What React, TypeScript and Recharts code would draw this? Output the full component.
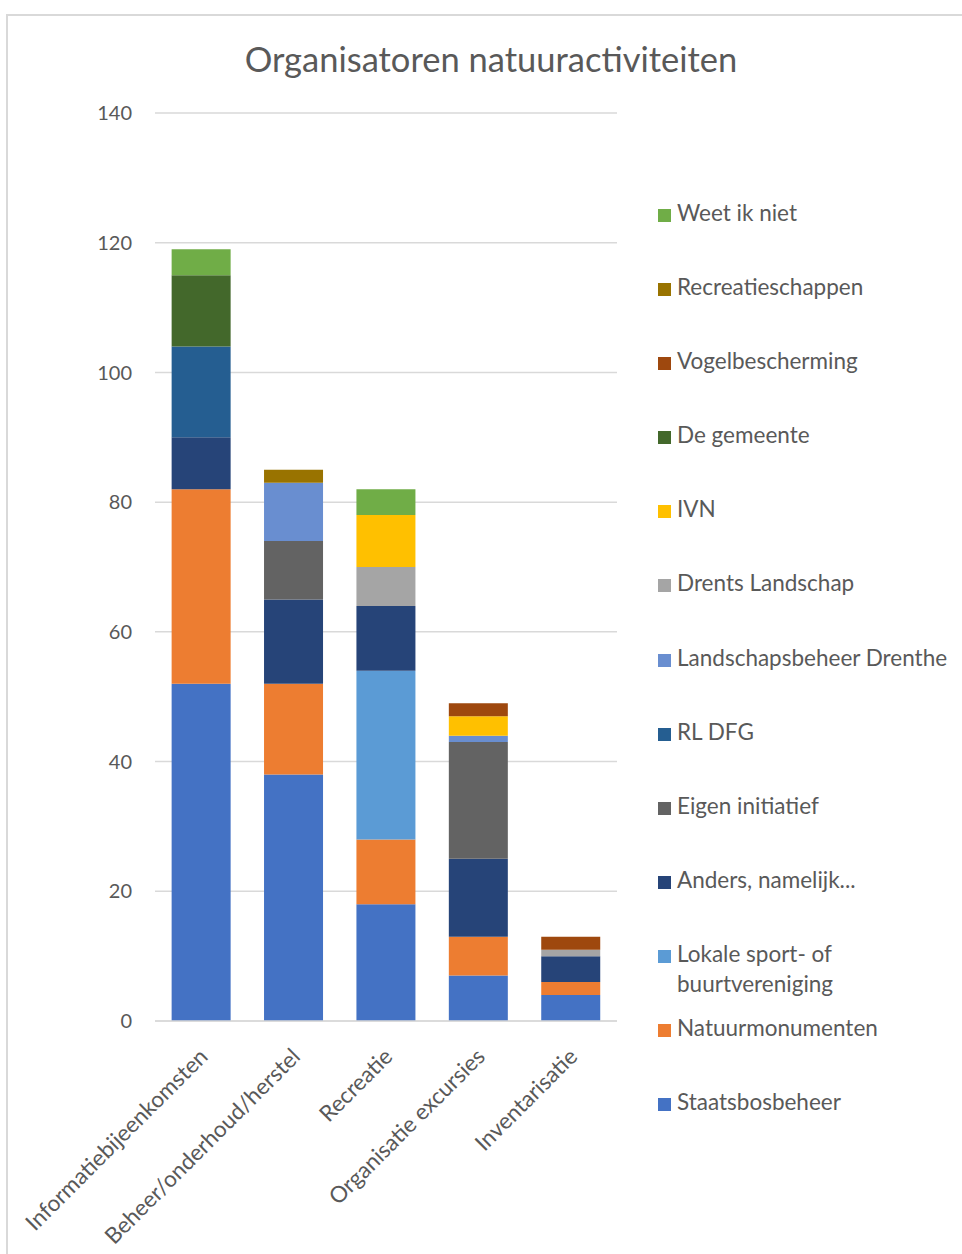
import { BarChart, Bar, XAxis, YAxis, CartesianGrid } from "recharts";

const categories = [
  "Informatiebijeenkomsten",
  "Beheer/onderhoud/herstel",
  "Recreatie",
  "Organisatie excursies",
  "Inventarisatie",
];

// stacked bottom -> top
const staatsbosbeheer = [52, 38, 18, 7, 4];
const natuurmonumenten = [30, 14, 10, 6, 2];
const lokaleSport = [0, 0, 26, 0, 0];
const anders = [8, 13, 10, 12, 4];
const eigenInitiatief = [0, 9, 0, 18, 0];
const rlDfg = [14, 0, 0, 0, 0];
const landschapsbeheer = [0, 9, 0, 1, 0];
const drentsLandschap = [0, 0, 6, 0, 1];
const ivn = [0, 0, 8, 3, 0];
const gemeente = [11, 0, 0, 0, 0];
const vogelbescherming = [0, 0, 0, 2, 2];
const recreatieschappen = [0, 2, 0, 0, 0];
const weetIkNiet = [4, 0, 4, 0, 0];

const yTicks = [0, 20, 40, 60, 80, 100, 120, 140];

const series = [
  { key: "Staatsbosbeheer", values: staatsbosbeheer, color: "#4472C4" },
  { key: "Natuurmonumenten", values: natuurmonumenten, color: "#ED7D31" },
  { key: "Lokale sport- of buurtvereniging", values: lokaleSport, color: "#5B9BD5" },
  { key: "Anders, namelijk...", values: anders, color: "#264478" },
  { key: "Eigen initiatief", values: eigenInitiatief, color: "#636363" },
  { key: "RL DFG", values: rlDfg, color: "#255E91" },
  { key: "Landschapsbeheer Drenthe", values: landschapsbeheer, color: "#698ED0" },
  { key: "Drents Landschap", values: drentsLandschap, color: "#A5A5A5" },
  { key: "IVN", values: ivn, color: "#FFC000" },
  { key: "De gemeente", values: gemeente, color: "#43682B" },
  { key: "Vogelbescherming", values: vogelbescherming, color: "#9E480E" },
  { key: "Recreatieschappen", values: recreatieschappen, color: "#997300" },
  { key: "Weet ik niet", values: weetIkNiet, color: "#70AD47" },
];

const data = categories.map((name, i) => {
  const row: any = { name };
  series.forEach((s) => (row[s.key] = s.values[i]));
  return row;
});

const FONT = "Lato, 'Open Sans', sans-serif";
const TEXT = "#595959";

function XTick({ x, y, payload }: any) {
  return (
    <g transform={`translate(${x + 8},${y + 29})`}>
      <text textAnchor="end" transform="rotate(-45)" fill={TEXT} fontSize={22.5} fontFamily={FONT}>
        {payload.value}
      </text>
    </g>
  );
}

function LegendBox() {
  const items = [...series].reverse();
  return (
    <div style={{ fontFamily: FONT, fontSize: 22.5, color: TEXT }}>
      {items.map((s) => {
        const twoLine = s.key.startsWith("Lokale");
        return (
          <div key={s.key} style={{ display: "flex", alignItems: "flex-start", height: 74.1 }}>
            <div style={{ width: 13, height: 13, background: s.color, marginTop: 8, marginRight: 6, flex: "none" }} />
            <div style={{ lineHeight: "30px", marginTop: -3, whiteSpace: "nowrap" }}>
              {twoLine ? (
                <>
                  Lokale sport- of
                  <br />
                  buurtvereniging
                </>
              ) : (
                s.key
              )}
            </div>
          </div>
        );
      })}
    </div>
  );
}

export default function App() {
  return (
    <div style={{ position: "absolute", left: 0, top: 0, width: 962, height: 1254, background: "#fff", overflow: "hidden" }}>
      <div
        style={{
          position: "absolute",
          left: 6,
          top: 14,
          width: 970,
          height: 1260,
          border: "2px solid #d9d9d9",
          boxSizing: "border-box",
        }}
      />
      <div
        style={{
          position: "absolute",
          left: 0,
          width: 982,
          top: 38,
          textAlign: "center",
          fontFamily: FONT,
          fontSize: 34.5,
          color: TEXT,
          lineHeight: "42px",
        }}
      >
        Organisatoren natuuractiviteiten
      </div>
      <div style={{ position: "absolute", left: 0, top: 0 }}>
        <BarChart
          width={962}
          height={1254}
          data={data}
          margin={{ top: 113, right: 345, left: 0, bottom: 0 }}
          barCategoryGap="18%"
        >
          <CartesianGrid vertical={false} stroke="#d9d9d9" strokeWidth={1.5} />
          <XAxis
            dataKey="name"
            interval={0}
            height={233}
            tick={<XTick />}
            tickLine={false}
            axisLine={{ stroke: "#d9d9d9", strokeWidth: 1.5 }}
          />
          <YAxis
            width={155}
            domain={[0, 140]}
            ticks={yTicks}
            axisLine={false}
            tickLine={false}
            tickSize={0}
            tickMargin={23}
            tick={{ fill: TEXT, fontSize: 20, fontFamily: FONT }}
          />
          {series.map((s) => (
            <Bar key={s.key} dataKey={s.key} stackId="a" fill={s.color} isAnimationActive={false} />
          ))}
        </BarChart>
      </div>
      <div style={{ position: "absolute", left: 658, top: 201 }}>
        <LegendBox />
      </div>
    </div>
  );
}
